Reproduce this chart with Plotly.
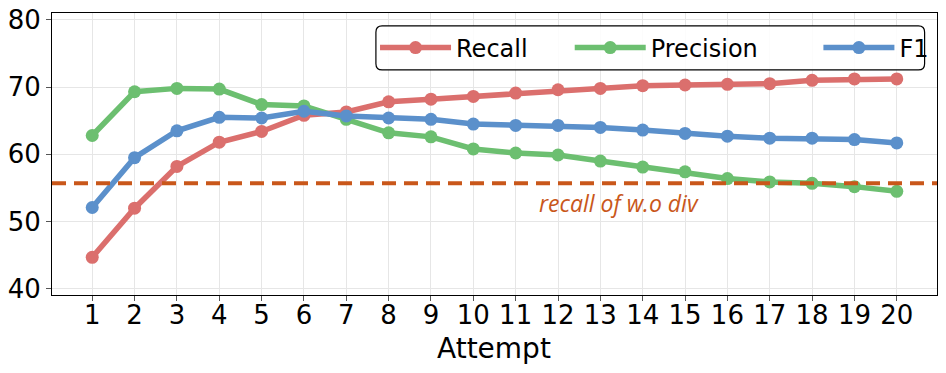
import plotly.graph_objects as go

# values
attempts = list(range(1, 21))
recall = [44.7, 52.0, 58.2, 61.8, 63.4, 65.8, 66.3, 67.8, 68.2, 68.6,
          69.1, 69.6, 69.8, 70.2, 70.3, 70.4, 70.5, 71.0, 71.2, 71.2]
precision = [62.8, 69.3, 69.8, 69.7, 67.4, 67.2, 65.2, 63.2, 62.6, 60.8,
             60.2, 59.9, 59.0, 58.1, 57.4, 56.4, 55.9, 55.7, 55.2, 54.5]
f1 = [52.1, 59.5, 63.5, 65.5, 65.4, 66.4, 65.7, 65.4, 65.2, 64.5,
      64.3, 64.3, 64.0, 63.6, 63.1, 62.7, 62.4, 62.4, 62.2, 61.7]
baseline = 55.7
baseline_label = "recall of w.o div"

series = [("Recall", recall, "#db6f6d"),
          ("Precision", precision, "#6cbf70"),
          ("F1", f1, "#5b90cb")]

# NOTE: one legend per trace so each entry can sit where the reference has it
legend_ids = ["legend", "legend2", "legend3"]
legend_x = [0.365, 0.585, 0.866]

fig = go.Figure()
for (name, vals, col), lid in zip(series, legend_ids):
    fig.add_trace(go.Scatter(x=attempts, y=vals, name=name, mode="lines+markers",
                             line=dict(color=col, width=5.5),
                             marker=dict(color=col, size=13), legend=lid))

# NOTE: baseline dashed line and its label
fig.add_hline(y=baseline, line=dict(color="#c9571a", width=4, dash="14px,8px"))
fig.add_annotation(x=13.45, y=52.7, text="<i>" + baseline_label + "</i>", showarrow=False,
                   font=dict(family="Open Sans", size=23, color="#c9571a"))

# NOTE: x title as an annotation, to put it closer to the tick labels
fig.add_annotation(x=0.4994, y=-0.188, xref="paper", yref="paper", yanchor="middle",
                   text="Attempt", showarrow=False, font=dict(size=28))

# NOTE: rounded legend frame (plotly legends have square corners)
x0, x1, y0, y1, rx, ry = 0.366, 0.986, 0.798, 0.954, 0.007, 0.022
frame = (f"M{x0+rx},{y0} L{x1-rx},{y0} Q{x1},{y0} {x1},{y0+ry} "
         f"L{x1},{y1-ry} Q{x1},{y1} {x1-rx},{y1} L{x0+rx},{y1} "
         f"Q{x0},{y1} {x0},{y1-ry} L{x0},{y0+ry} Q{x0},{y0} {x0+rx},{y0} Z")
fig.add_shape(type="path", path=frame, xref="paper", yref="paper",
              line=dict(color="black", width=1.2), fillcolor="rgba(255,255,255,0.85)",
              layer="above")

fig.update_layout(
    width=946, height=373,
    margin=dict(l=52, r=9, t=13, b=78),
    plot_bgcolor="white", paper_bgcolor="white",
    font=dict(family="DejaVu Sans", color="black"),
    showlegend=True,
)
for lid, lx in zip(legend_ids, legend_x):
    fig.update_layout({lid: dict(orientation="h", x=lx, xanchor="left", y=0.876, yanchor="middle",
                                 bgcolor="rgba(0,0,0,0)", borderwidth=0,
                                 font=dict(size=24), itemwidth=71)})

fig.update_xaxes(range=[0.05, 20.95], tickvals=attempts, ticktext=[str(a) for a in attempts],
                 tickfont=dict(size=26), ticklabelstandoff=-8,
                 showgrid=True, gridcolor="#e6e6e6", zeroline=False, automargin=False,
                 showline=True, linecolor="black", linewidth=1, mirror=True,
                 ticks="outside", ticklen=5, tickcolor="#555")
fig.update_yaxes(range=[39.1, 81], tickvals=[40, 50, 60, 70, 80],
                 tickfont=dict(size=26), automargin=False,
                 showgrid=True, gridcolor="#e6e6e6", zeroline=False,
                 showline=True, linecolor="black", linewidth=1, mirror=True,
                 ticks="outside", ticklen=5, tickcolor="#555")

# NOTE: drop the default page margin so the figure sits at the window corner
fig.write_html("out.html", config={"responsive": False, "displayModeBar": False},
               post_script="document.body.style.margin='0';document.body.style.overflow='hidden';")
